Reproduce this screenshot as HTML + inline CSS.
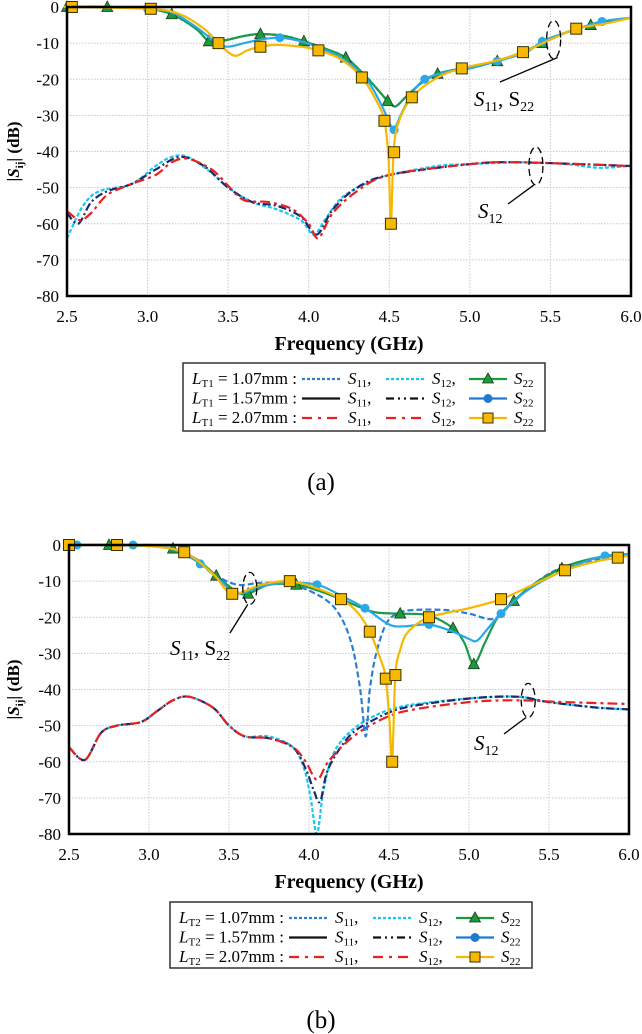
<!DOCTYPE html>
<html><head><meta charset="utf-8">
<style>
body{margin:0;background:#fff;}
svg{display:block;font-family:"Liberation Serif",serif;}
</style></head>
<body>
<svg id="fig" width="642" height="1034" viewBox="0 0 642 1034" xmlns="http://www.w3.org/2000/svg"></svg>
<script>
// ---------- Chart (a) data ----------
const aS22g_f=[2.5,2.75,3.0,3.15,3.3,3.38,3.45,3.6,3.7,3.85,3.97,4.1,4.23,4.35,4.45,4.5,4.54,4.6,4.7,4.8,4.95,5.17,5.35,5.45,5.6,5.75,6.0];
const aS22g_v=[0,0,-0.5,-2,-6,-9.5,-9.5,-8,-7.5,-8,-9.5,-11.5,-14,-19,-24,-26.5,-27.5,-25,-21,-18.5,-17,-15,-12,-10,-7,-5,-3];
const aS22g_m=[2.5,2.75,3.15,3.38,3.7,3.97,4.23,4.49,4.8,5.17,5.45,5.75];
const aS22b_f=[2.5,2.75,3.0,3.15,3.3,3.43,3.5,3.6,3.7,3.82,3.95,4.05,4.2,4.35,4.45,4.5,4.53,4.57,4.64,4.72,4.85,5.0,5.17,5.35,5.45,5.6,5.82,6.0];
const aS22b_v=[0,0,-0.5,-1.5,-5.5,-10,-11,-10,-9,-8.5,-9.5,-11,-14,-19.5,-27,-32,-34,-30,-24,-20,-18,-17,-15,-12.5,-9.5,-7,-4,-3];
const aS22b_m=[3.0,3.82,4.53,4.72,5.17,5.45,5.82];
const aS22y_f=[2.5,2.53,3.02,3.2,3.35,3.44,3.5,3.55,3.62,3.7,3.8,3.95,4.06,4.2,4.33,4.42,4.47,4.495,4.51,4.525,4.55,4.64,4.8,4.95,5.15,5.33,5.5,5.66,5.85,6.0];
const aS22y_v=[0,0,-0.5,-2,-6,-10,-12.5,-13.5,-12,-11,-10.5,-11,-12,-14.5,-19.5,-26,-31.5,-42,-60,-42,-33,-25,-19.5,-17,-15,-12.5,-9,-6,-4.5,-3];
const aS22y_m=[2.53,3.02,3.44,3.7,4.06,4.33,4.47,4.51,4.53,4.64,4.95,5.33,5.66];
const aS12c_f=[2.5,2.6,2.7,2.9,3.05,3.15,3.25,3.4,3.5,3.65,3.8,3.95,4.03,4.1,4.2,4.35,4.5,4.8,5.0,5.3,5.6,5.8,6.0];
const aS12c_v=[-64,-55,-51,-49,-44,-41.5,-41.5,-46,-50,-54,-56,-59,-63,-59,-53,-49,-46.5,-44,-43.5,-43,-43.5,-44.5,-44];
const aS12k_f=[2.5,2.57,2.65,2.75,2.9,3.05,3.2,3.35,3.5,3.65,3.8,3.95,4.05,4.15,4.3,4.5,5.0,5.3,6.0];
const aS12k_v=[-57,-60,-54,-51,-49,-45,-41.5,-44,-50,-54,-55,-58,-63,-56,-50,-46.5,-43.5,-43,-44];
const aS12r_f=[2.5,2.58,2.65,2.75,2.9,3.05,3.15,3.25,3.4,3.5,3.6,3.75,3.9,4.0,4.06,4.15,4.3,4.5,5.0,5.3,6.0];
const aS12r_v=[-56.5,-59,-57,-52,-49,-46.5,-43,-42,-45,-49.5,-53.5,-54,-56,-60,-64,-57,-51,-46.5,-43.5,-43,-44];

// ---------- Chart (b) data ----------
const bS22g_f=[2.5,2.75,3.0,3.15,3.3,3.42,3.55,3.62,3.75,3.92,4.05,4.2,4.4,4.57,4.75,4.9,4.97,5.03,5.1,5.18,5.28,5.4,5.6,5.8,6.0];
const bS22g_v=[0,0,-0.3,-1,-4,-8.5,-13,-13.5,-11,-11,-12.5,-15,-18.5,-19,-19.5,-23,-27,-33,-27,-20,-15.5,-11,-6,-3.5,-2.5];
const bS22g_m=[2.75,3.15,3.42,3.62,3.92,4.57,4.9,5.03,5.28,5.58];
const bS22b_f=[2.5,2.9,3.1,3.3,3.45,3.55,3.7,3.85,4.05,4.2,4.35,4.5,4.6,4.75,4.9,5.0,5.05,5.12,5.2,5.35,5.5,5.7,5.85,6.0];
const bS22b_v=[0,0,-0.5,-4.5,-10,-13.5,-11.5,-10.5,-11,-14,-17.5,-22,-22.5,-22,-24,-26,-26.5,-23,-19,-13,-9,-5,-3,-2.5];
const bS22b_m=[2.55,2.9,3.32,4.05,4.35,4.75,5.2,5.85];
const bS11d_f=[2.5,2.9,3.1,3.3,3.4,3.55,3.7,3.9,4.1,4.2,4.27,4.32,4.355,4.38,4.42,4.48,4.55,4.65,4.85,5.0,5.15,5.25,5.4,5.6,6.0];
const bS11d_v=[0,0,-0.5,-4.5,-8,-11,-10.5,-11,-15,-20,-28,-40,-53,-40,-30,-22,-19,-18,-18,-19,-20.5,-17,-11,-6,-2.5];
const bS22y_f=[2.5,2.8,3.0,3.22,3.4,3.52,3.7,3.88,4.05,4.2,4.3,4.38,4.45,4.48,4.505,4.52,4.54,4.57,4.62,4.75,5.0,5.2,5.4,5.6,5.8,5.93,6.0];
const bS22y_v=[0,0,-0.3,-2,-8,-13.5,-11,-10,-12,-15,-18.5,-24,-32,-37,-50,-60,-36,-29,-24,-20,-17.5,-15,-11,-7,-4.5,-3.5,-3];
const bS22y_m=[2.5,2.8,3.22,3.52,3.88,4.2,4.38,4.48,4.52,4.54,4.75,5.2,5.6,5.93];
const bS12c_f=[2.5,2.6,2.7,2.8,2.95,3.05,3.15,3.25,3.4,3.5,3.6,3.75,3.9,3.97,4.01,4.05,4.09,4.15,4.25,4.4,4.6,5.0,5.3,5.5,5.8,6.0];
const bS12c_v=[-56,-59.5,-52,-50,-49,-46,-43,-42,-45,-50,-53,-53,-56,-62,-70,-80,-68,-58,-52,-47.5,-44.5,-42.5,-42,-43.5,-45,-45.5];
const bS12k_f=[2.5,2.6,2.7,2.8,2.95,3.05,3.15,3.25,3.4,3.5,3.6,3.75,3.9,3.98,4.03,4.07,4.12,4.25,4.4,4.6,5.0,5.3,5.5,5.8,6.0];
const bS12k_v=[-56,-59.5,-52,-50,-49,-46,-43,-42,-45,-50,-53,-53.5,-56,-62,-68,-71,-62,-53,-48.5,-45,-42.5,-42,-43.5,-45,-45.5];
const bS12r_f=[2.5,2.6,2.7,2.8,2.95,3.05,3.15,3.25,3.4,3.5,3.6,3.75,3.9,3.98,4.05,4.12,4.25,4.4,4.6,5.0,5.3,5.6,6.0];
const bS12r_v=[-56,-59.5,-52,-50,-49,-46,-43,-42,-45,-50,-53,-53.5,-56,-60,-65,-60,-54,-49.5,-46,-43.5,-43,-43.5,-44];

const yTicks=[0,-10,-20,-30,-40,-50,-60,-70,-80];
const xTicks=[2.5,3.0,3.5,4.0,4.5,5.0,5.5,6.0];

const NS="http://www.w3.org/2000/svg";
const svg=document.getElementById('fig');
function mk(tag,attrs,parent){const e=document.createElementNS(NS,tag);for(const k in attrs)e.setAttribute(k,attrs[k]);(parent||svg).appendChild(e);return e;}

function interp(fs,vs,f){for(let i=0;i<fs.length-1;i++){if(f>=fs[i]&&f<=fs[i+1]){const t=(f-fs[i])/(fs[i+1]-fs[i]);return vs[i]+t*(vs[i+1]-vs[i]);}}return vs[vs.length-1];}

function smoothPath(pts){
  let d=`M${pts[0][0].toFixed(1)},${pts[0][1].toFixed(1)}`;
  for(let i=0;i<pts.length-1;i++){
    const p0=pts[Math.max(0,i-1)],p1=pts[i],p2=pts[i+1],p3=pts[Math.min(pts.length-1,i+2)];
    const k=0.16;
    const c1=[p1[0]+(p2[0]-p0[0])*k,p1[1]+(p2[1]-p0[1])*k];
    const c2=[p2[0]-(p3[0]-p1[0])*k,p2[1]-(p3[1]-p1[1])*k];
    d+=` C${c1[0].toFixed(1)},${c1[1].toFixed(1)} ${c2[0].toFixed(1)},${c2[1].toFixed(1)} ${p2[0].toFixed(1)},${p2[1].toFixed(1)}`;
  }
  return d;
}

function chart(cfg){
  const g=mk('g',{});
  
  
  const X=f=>cfg.x0+(f-2.5)/3.5*(cfg.x1-cfg.x0);
  const Y=v=>cfg.y0+(-v)/80*(cfg.y1-cfg.y0);
  yTicks.forEach(t=>{
    if(t!==0&&t!==-80){const l=mk('line',{x1:cfg.x0,x2:cfg.x1,y1:Y(t),y2:Y(t),stroke:'#c8c8c8','stroke-width':1,'stroke-dasharray':'1.5 1.5'},g);
    }
    const tx=mk('text',{x:cfg.x0-8,y:Y(t)+6,'text-anchor':'end','font-size':17},g);tx.textContent=t;
    
  });
  xTicks.forEach(t=>{
    if(t!==2.5&&t!==6.0){const l=mk('line',{x1:X(t),x2:X(t),y1:cfg.y0,y2:cfg.y1,stroke:'#c8c8c8','stroke-width':1,'stroke-dasharray':'1.5 1.5'},g);
    }
    const tx=mk('text',{x:X(t),y:cfg.y1+26,'text-anchor':'middle','font-size':17},g);tx.textContent=t.toFixed(1);
    
  });
  cfg.series.forEach(s=>{
    const pts=s.f.map((f,i)=>[X(f),Y(s.v[i])]);
    const p=mk('path',{d:smoothPath(pts),fill:'none',stroke:s.c,'stroke-width':s.w||2.2,'stroke-dasharray':s.dash||'none'},g);
    
    if(s.m){s.m.forEach(f=>{const cx=X(f),cy=Y(interp(s.f,s.v,f));let e;
      if(s.mk==='tri')e=mk('path',{d:`M${cx},${cy-6}L${cx+5.5},${cy+4.5}L${cx-5.5},${cy+4.5}Z`,fill:'#1a9a3a',stroke:'#1a3a1a','stroke-width':0.8},g);
      else if(s.mk==='dot')e=mk('circle',{cx:cx,cy:cy,r:4.5,fill:'#2aa8e8'},g);
      else e=mk('rect',{x:cx-5.5,y:cy-5.5,width:11,height:11,fill:'#f6b800',stroke:'#3a3000','stroke-width':1},g);
      });}
  });
  const fr=mk('rect',{x:cfg.x0,y:cfg.y0,width:cfg.x1-cfg.x0,height:cfg.y1-cfg.y0,fill:'none',stroke:'#000','stroke-width':2.5},g);
  
  const yt=mk('text',{x:0,y:0,'font-size':17,'font-weight':'bold','text-anchor':'middle',transform:`translate(19,${(cfg.y0+cfg.y1)/2}) rotate(-90)`},g);
  yt.innerHTML='|<tspan font-style="italic">S</tspan><tspan font-size="11" dy="4">ij</tspan><tspan dy="-4">| (dB)</tspan>';
  
  const xt=mk('text',{x:(cfg.x0+cfg.x1)/2,y:cfg.y1+54,'font-size':20,'font-weight':'bold','text-anchor':'middle'},g);
  xt.textContent='Frequency (GHz)';
  
  cfg.ann.forEach(a=>{
    const el=mk('ellipse',{cx:X(a.f),cy:Y(a.v),rx:7,ry:a.ry,fill:'none',stroke:'#000','stroke-width':1.3,'stroke-dasharray':'7 4'},g);
    
    const ln=mk('line',{x1:X(a.f)+a.lx1,y1:Y(a.v)+a.ly1,x2:a.tx+a.lx2,y2:a.ty+a.ly2,stroke:'#000','stroke-width':1.3},g);
    
    const t=mk('text',{x:a.tx,y:a.ty,'font-size':21},g);
    t.innerHTML=a.html;
    
  });
  const L=cfg.leg;
  const lb=mk('rect',{x:L.x,y:L.y,width:L.w,height:L.h,fill:'#fff',stroke:'#333','stroke-width':1.5},g);
  
  const rows=[['1.07','#2a7fd0','3 2','#19c8f0','3 2','tri','#1a9a3a'],['1.57','#111','none','#111','8 4 2 4 2 4','dot','#1f7ad0'],['2.07','#e82020','10 6 3 6','#e82020','10 6 3 6','sq','#f6b800']];
  rows.forEach((r,i)=>{
    const y=L.y+16+i*19.5;
    const t=mk('text',{x:L.x+9,y:y+5,'font-size':17},g);
    t.innerHTML=`<tspan font-style="italic">L</tspan><tspan font-size="11" dy="3">${L.sub}</tspan><tspan dy="-3"> = ${r[0]}mm :</tspan>`;
    
    const x1=L.x+119;
    const l1=mk('line',{x1:x1,x2:x1+38,y1:y,y2:y,stroke:r[1],'stroke-width':2.2,'stroke-dasharray':r[2]},g);
    
    const t1=mk('text',{x:x1+46,y:y+5,'font-size':17},g);t1.innerHTML='<tspan font-style="italic">S</tspan><tspan font-size="11" dy="3">11</tspan><tspan dy="-3">,</tspan>';
    
    const x2=L.x+203;
    const l2=mk('line',{x1:x2,x2:x2+38,y1:y,y2:y,stroke:r[3],'stroke-width':2.2,'stroke-dasharray':r[4]},g);
    
    const t2=mk('text',{x:x2+46,y:y+5,'font-size':17},g);t2.innerHTML='<tspan font-style="italic">S</tspan><tspan font-size="11" dy="3">12</tspan><tspan dy="-3">,</tspan>';
    
    const x3=L.x+286;
    const l3=mk('line',{x1:x3,x2:x3+38,y1:y,y2:y,stroke:r[6],'stroke-width':2.2},g);
    
    let m;const cx=x3+19;
    if(r[5]==='tri')m=mk('path',{d:`M${cx},${y-6}L${cx+5.5},${y+4}L${cx-5.5},${y+4}Z`,fill:'#1a9a3a',stroke:'#1a3a1a','stroke-width':0.8},g);
    else if(r[5]==='dot')m=mk('circle',{cx:cx,cy:y,r:4.5,fill:'#1f7ad0'},g);
    else m=mk('rect',{x:cx-5,y:y-5,width:10,height:10,fill:'#f6b800',stroke:'#3a3000','stroke-width':1},g);
    
    const t3=mk('text',{x:x3+45,y:y+5,'font-size':17},g);t3.innerHTML='<tspan font-style="italic">S</tspan><tspan font-size="11" dy="3">22</tspan>';
    
  });
  const cap=mk('text',{x:cfg.capX,y:cfg.capY,'font-size':25,'text-anchor':'middle'},g);
  cap.textContent=cfg.cap;
  
}

chart({name:'chart-a',x0:67,x1:631,y0:7,y1:296,cap:'(a)',capX:321,capY:490,
  leg:{x:183,y:363,w:362,h:68,sub:'T1'},
  series:[
    {n:'s12-107-line',f:aS12c_f,v:aS12c_v,c:'#19c8f0',dash:'4 2'},
    {n:'s12-157-line',f:aS12k_f,v:aS12k_v,c:'#1a2a6a',dash:'8 3 2 3'},
    {n:'s12-207-line',f:aS12r_f,v:aS12r_v,c:'#e82020',dash:'10 4 3 4'},
    {n:'s11-107-line',f:aS22g_f,v:aS22g_v,c:'#2a7fd0',dash:'4 2'},
    {n:'s22-107-line',f:aS22g_f,v:aS22g_v,c:'#1a9a4a',m:aS22g_m,mk:'tri'},
    {n:'s22-157-line',f:aS22b_f,v:aS22b_v,c:'#2aa8e8',m:aS22b_m,mk:'dot'},
    {n:'s22-207-line',f:aS22y_f,v:aS22y_v,c:'#f6b800',m:aS22y_m,mk:'sq'}
  ],
  ann:[
    {f:5.52,v:-9,ry:19,lx1:4,ly1:18,tx:474,ty:106,lx2:26,ly2:-24,html:'<tspan font-style="italic">S</tspan><tspan font-size="14" dy="5">11</tspan><tspan dy="-5">, S</tspan><tspan font-size="14" dy="5">22</tspan>'},
    {f:5.41,v:-44,ry:19,lx1:-2,ly1:19,tx:478,ty:218,lx2:30,ly2:-14,html:'<tspan font-style="italic">S</tspan><tspan font-size="14" dy="5">12</tspan>'}
  ]});

chart({name:'chart-b',x0:69,x1:629,y0:545,y1:834,cap:'(b)',capX:321,capY:1028,
  leg:{x:170,y:902,w:362,h:66,sub:'T2'},
  series:[
    {n:'s12-107-line',f:bS12c_f,v:bS12c_v,c:'#19c8f0',dash:'4 2'},
    {n:'s12-157-line',f:bS12k_f,v:bS12k_v,c:'#1a2a6a',dash:'8 3 2 3'},
    {n:'s12-207-line',f:bS12r_f,v:bS12r_v,c:'#e82020',dash:'10 4 3 4'},
    {n:'s11-107-line',f:bS11d_f,v:bS11d_v,c:'#2a7fd0',dash:'6 3'},
    {n:'s22-107-line',f:bS22g_f,v:bS22g_v,c:'#1a9a4a',m:bS22g_m,mk:'tri'},
    {n:'s22-157-line',f:bS22b_f,v:bS22b_v,c:'#2aa8e8',m:bS22b_m,mk:'dot'},
    {n:'s22-207-line',f:bS22y_f,v:bS22y_v,c:'#f6b800',m:bS22y_m,mk:'sq'}
  ],
  ann:[
    {f:3.63,v:-12,ry:16,lx1:-2,ly1:16,tx:170,ty:655,lx2:60,ly2:-22,html:'<tspan font-style="italic">S</tspan><tspan font-size="14" dy="5">11</tspan><tspan dy="-5">, S</tspan><tspan font-size="14" dy="5">22</tspan>'},
    {f:5.37,v:-43,ry:17,lx1:-2,ly1:17,tx:474,ty:750,lx2:30,ly2:-16,html:'<tspan font-style="italic">S</tspan><tspan font-size="14" dy="5">12</tspan>'}
  ]});
</script>
</body></html>
